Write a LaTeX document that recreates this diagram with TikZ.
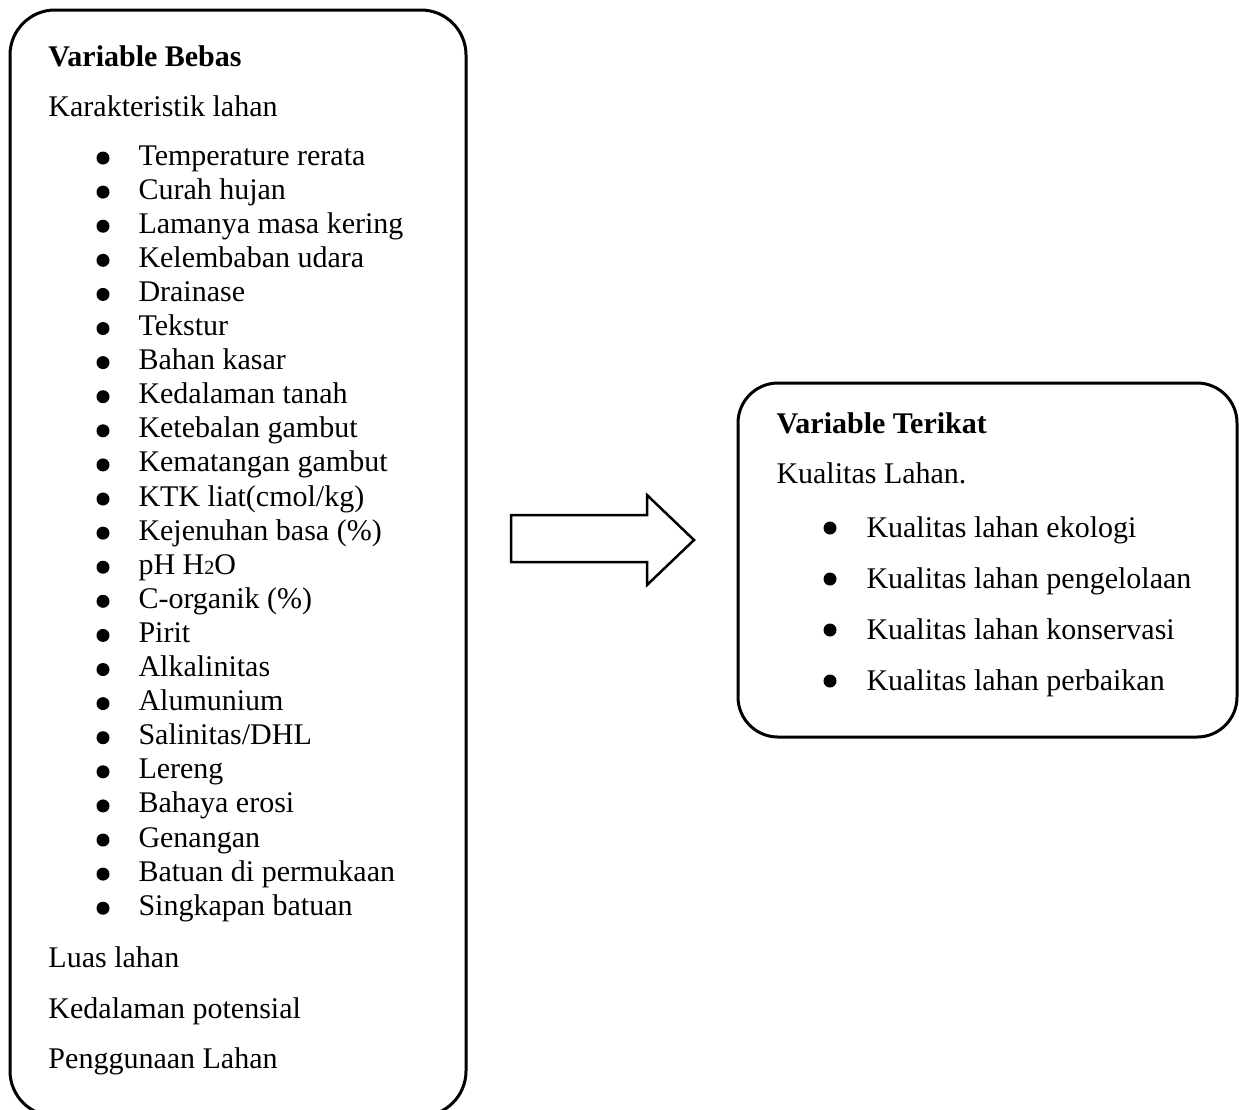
\documentclass[tikz,border=0pt]{standalone}
\usepackage{fontspec}
\setmainfont{Liberation Serif}

\begin{document}
\begin{tikzpicture}[x=0.4pt,y=-0.4pt,
  box/.style={line width=1.2pt, rounded corners=18pt},
  txt/.style={anchor=base west, inner sep=0pt, font=\fontsize{12}{14}\selectfont},
  head/.style={txt, font=\fontsize{12}{14}\selectfont\bfseries},
  dot/.style={circle, fill=black, inner sep=0pt, minimum size=5.2pt}]
\clip (0,0) rectangle (1239,1109);
% variable bebas
\draw[box] (10,10) rectangle (466,1116);
\node[head] (VB) at (48,66) {Variable Bebas};
\node[txt] (KL) at (48,116) {Karakteristik lahan};
\foreach \item [count=\i from 0] in {Temperature rerata, Curah hujan, Lamanya masa kering,
  Kelembaban udara, Drainase, Tekstur, Bahan kasar, Kedalaman tanah, Ketebalan gambut,
  Kematangan gambut, KTK liat(cmol/kg), Kejenuhan basa (\%), {pH H{\fontsize{8}{8}\selectfont 2}O},
  C-organik (\%), Pirit, Alkalinitas, Alumunium, Salinitas/DHL, Lereng, Bahaya erosi,
  Genangan, Batuan di permukaan, Singkapan batuan}
{\node[dot] (b\i) at (103,{158+34.1*\i}) {};
 \node[txt] (k\i) at (138,{165+34.1*\i}) {\item};}
\node[txt] (LL) at (48,967) {Luas lahan};
\node[txt] (KP) at (48,1018) {Kedalaman potensial};
\node[txt] (PL) at (48,1068) {Penggunaan Lahan};
% panah
\draw[line width=1pt] (511,515) -- (647,515) -- (647,495) -- (694,540) -- (647,585) -- (647,562) -- (511,562) -- cycle;
% variable terikat
\draw[box, rounded corners=16pt] (738,383) rectangle (1237,737);
\node[head] (VT) at (776,433) {Variable Terikat};
\node[txt] (QL) at (776,483) {Kualitas Lahan.};
\foreach \item [count=\i from 0] in {Kualitas lahan ekologi, Kualitas lahan pengelolaan,
  Kualitas lahan konservasi, Kualitas lahan perbaikan}
{\node[dot] (c\i) at (830,{528+51*\i}) {};
 \node[txt] (q\i) at (866,{537+51*\i}) {\item};}
%\draw (VB) -- (VT);
\end{tikzpicture}
\end{document}
